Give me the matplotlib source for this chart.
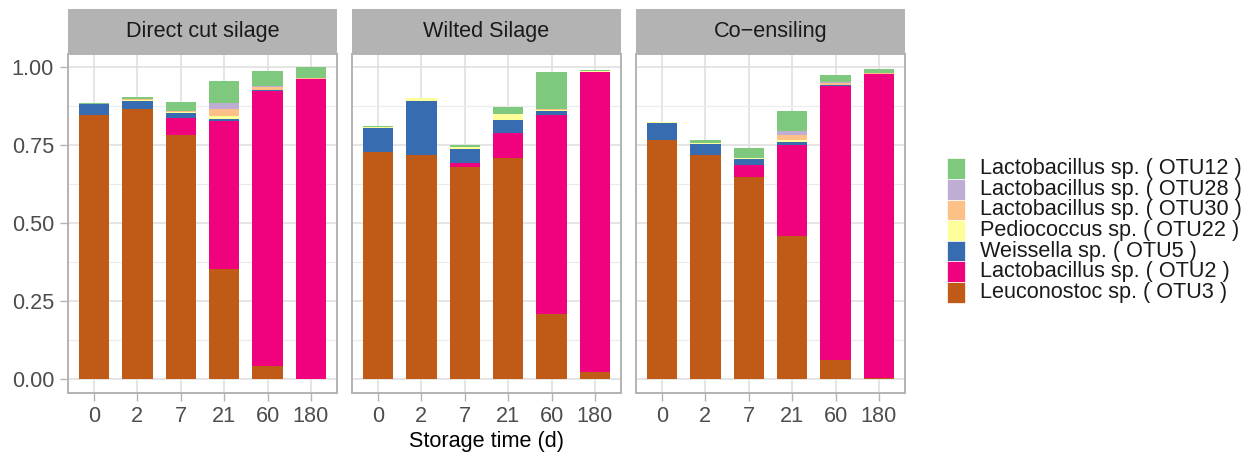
import matplotlib.pyplot as plt
from matplotlib.patches import Rectangle
import numpy as np

plt.rcParams['font.family'] = ['Liberation Sans', 'DejaVu Sans']

# Datos
dias = ['0', '2', '7', '21', '60', '180']
tratamientos = ['Direct cut silage', 'Wilted Silage', 'Co\u2212ensiling']

# cada especie: [directo, marchito, co-ensilado], 6 tiempos cada uno
otu3 = [[0.845, 0.865, 0.782, 0.353, 0.043, 0.001],
        [0.728, 0.717, 0.681, 0.709, 0.209, 0.022],
        [0.767, 0.717, 0.646, 0.458, 0.061, 0.003]]
otu2 = [[0.000, 0.000, 0.056, 0.474, 0.881, 0.961],
        [0.000, 0.000, 0.010, 0.081, 0.637, 0.963],
        [0.000, 0.000, 0.039, 0.291, 0.878, 0.975]]
otu5 = [[0.036, 0.026, 0.015, 0.007, 0.002, 0.000],
        [0.076, 0.174, 0.045, 0.041, 0.013, 0.000],
        [0.054, 0.035, 0.019, 0.012, 0.003, 0.000]]
otu22 = [[0.001, 0.005, 0.004, 0.008, 0.001, 0.001],
         [0.005, 0.010, 0.007, 0.018, 0.004, 0.001],
         [0.003, 0.004, 0.005, 0.005, 0.001, 0.001]]
otu30 = [[0.000, 0.001, 0.001, 0.023, 0.010, 0.003],
         [0.000, 0.000, 0.000, 0.002, 0.004, 0.000],
         [0.000, 0.000, 0.000, 0.016, 0.005, 0.003]]
otu28 = [[0.000, 0.000, 0.000, 0.019, 0.002, 0.000],
         [0.000, 0.000, 0.000, 0.000, 0.000, 0.000],
         [0.000, 0.000, 0.000, 0.013, 0.005, 0.000]]
otu12 = [[0.002, 0.008, 0.031, 0.070, 0.049, 0.033],
         [0.001, 0.000, 0.007, 0.020, 0.117, 0.004],
         [0.001, 0.010, 0.031, 0.064, 0.022, 0.013]]

# orden de apilado (de abajo hacia arriba)
especies = ['Leuconostoc sp. ( OTU3 )', 'Lactobacillus sp. ( OTU2 )',
            'Weissella sp. ( OTU5 )', 'Pediococcus sp. ( OTU22 )',
            'Lactobacillus sp. ( OTU30 )', 'Lactobacillus sp. ( OTU28 )',
            'Lactobacillus sp. ( OTU12 )']
valores = [otu3, otu2, otu5, otu22, otu30, otu28, otu12]
colores = ['#BF5B17', '#F0027F', '#386CB0', '#FFFF99', '#FDC086', '#BEAED4', '#7FC97F']

W, H = 1254, 457
fig = plt.figure(figsize=(W / 100, H / 100), dpi=100)

fs = 15.6
gris_borde = '#B3B3B3'
izq = [68, 352, 636]
ancho, arriba, abajo = 269, 54, 393

x = np.arange(len(dias))
ejes = []
for k, trat in enumerate(tratamientos):
    ax = fig.add_axes([izq[k] / W, 1 - abajo / H, ancho / W, (abajo - arriba) / H])
    base = np.zeros(len(dias))
    for nombre, datos, col in zip(especies, valores, colores):
        v = np.array(datos[k])
        ax.bar(x, v, width=0.7, bottom=base, color=col, linewidth=0, zorder=3)
        base += v
    ax.set_xlim(-0.6, 5.6)
    ax.set_ylim(-0.045, 1.042)
    ax.set_xticks(x)
    ax.set_xticklabels(dias)
    ax.set_yticks([0, 0.25, 0.5, 0.75, 1.0])
    ax.set_yticks([0.125, 0.375, 0.625, 0.875], minor=True)
    ax.grid(True, which='major', color='#DEDEDE', linewidth=1.1, zorder=0)
    ax.grid(True, which='minor', axis='y', color='#EBEBEB', linewidth=0.8, zorder=0)
    ax.set_axisbelow(True)
    for s in ax.spines.values():
        s.set_color(gris_borde)
        s.set_linewidth(1.4)
    ax.tick_params(axis='x', length=6, width=1, color=gris_borde, labelsize=fs,
                   labelcolor='#4D4D4D', pad=3)
    ax.tick_params(which='minor', length=0)
    if k == 0:
        ax.set_yticklabels(['0.00', '0.25', '0.50', '0.75', '1.00'])
        ax.tick_params(axis='y', length=6, width=1, color=gris_borde, labelsize=fs,
                       labelcolor='#4D4D4D', pad=4)
    else:
        ax.tick_params(axis='y', length=0, labelleft=False)
    # franja del título
    ax.add_patch(Rectangle((0, 1), 1, 45 / (abajo - arriba), transform=ax.transAxes,
                           facecolor=gris_borde, edgecolor='none', clip_on=False))
    ax.text(0.5, 1 + 22.5 / (abajo - arriba), trat, transform=ax.transAxes,
            ha='center', va='center', fontsize=fs, color='#1A1A1A')
    ejes.append(ax)

ejes[1].set_xlabel('Storage time (d)', fontsize=fs, color='black', labelpad=3)

# leyenda manual
fila = 20.6
y0 = 158.3
for i, (nombre, col) in enumerate(zip(especies[::-1], colores[::-1])):
    yt = y0 + i * fila
    fig.patches.append(Rectangle((947 / W, 1 - (yt + fila) / H), 18 / W, fila / H,
                                 transform=fig.transFigure, facecolor=col,
                                 edgecolor='white', linewidth=0.5))
    fig.text(980 / W, 1 - (yt + fila / 2) / H, nombre, fontsize=fs,
             ha='left', va='center', color='#1A1A1A')

plt.savefig('out.png', dpi=100)
